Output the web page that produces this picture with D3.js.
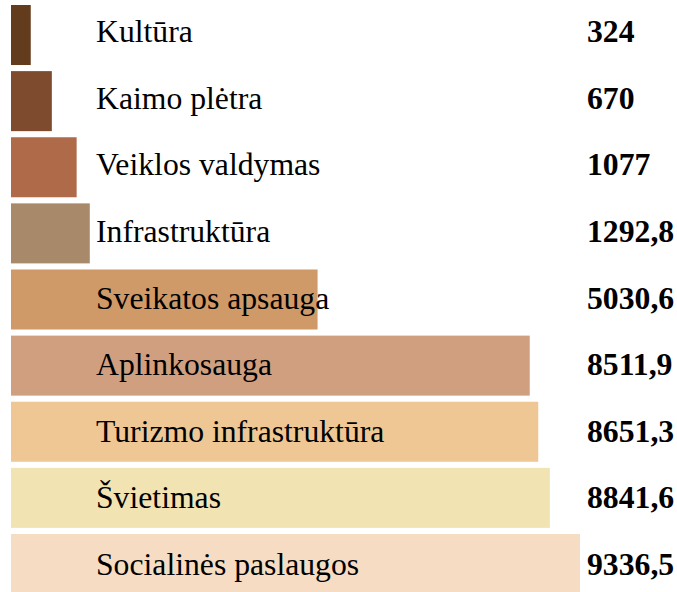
<!DOCTYPE html>
<html><head><meta charset="utf-8">
<script src="https://cdn.jsdelivr.net/npm/d3@7"></script>
<style>body{margin:0;background:#fff} text{font-family:'Liberation Serif','Times New Roman',serif;}</style>
</head><body>
<svg id="c" width="677" height="592"></svg>
<script>
const categories = ["Kultūra","Kaimo plėtra","Veiklos valdymas","Infrastruktūra","Sveikatos apsauga","Aplinkosauga","Turizmo infrastruktūra","Švietimas","Socialinės paslaugos"];
const values = [324,670,1077,1292.8,5030.6,8511.9,8651.3,8841.6,9336.5];
const valueLabels = ["324","670","1077","1292,8","5030,6","8511,9","8651,3","8841,6","9336,5"];
const colors = ["#633b1d","#7f4b2e","#af6a4a","#a88a6a","#cf9a68","#d09f80","#efc794","#f2e3b3","#f6dcc2"];

const svg = d3.select("#c");
const x = d3.scaleLinear().domain([0, 9336.5]).range([11, 580]);
const y = d3.scaleBand().domain(categories).range([5, 594]).paddingInner(0.0923).paddingOuter(0);
const ty = d3.scalePoint().domain(categories).range([42, 575]);

const g = svg.selectAll("g.row").data(categories).join("g").attr("class","row");
g.append("rect")
  .attr("x", x(0))
  .attr("y", d => y(d))
  .attr("width", (d,i) => x(values[i]) - x(0))
  .attr("height", y.bandwidth())
  .attr("fill", (d,i) => colors[i]);
g.append("text")
  .attr("x", 96)
  .attr("y", d => ty(d))
  .attr("font-size", 31.7)
  .attr("fill", "#000")
  .text(d => d);
g.append("text")
  .attr("x", 587)
  .attr("y", d => ty(d))
  .attr("font-size", 31.7)
  .attr("font-weight", "bold")
  .attr("fill", "#000")
  .text((d,i) => valueLabels[i]);
</script>
</body></html>
